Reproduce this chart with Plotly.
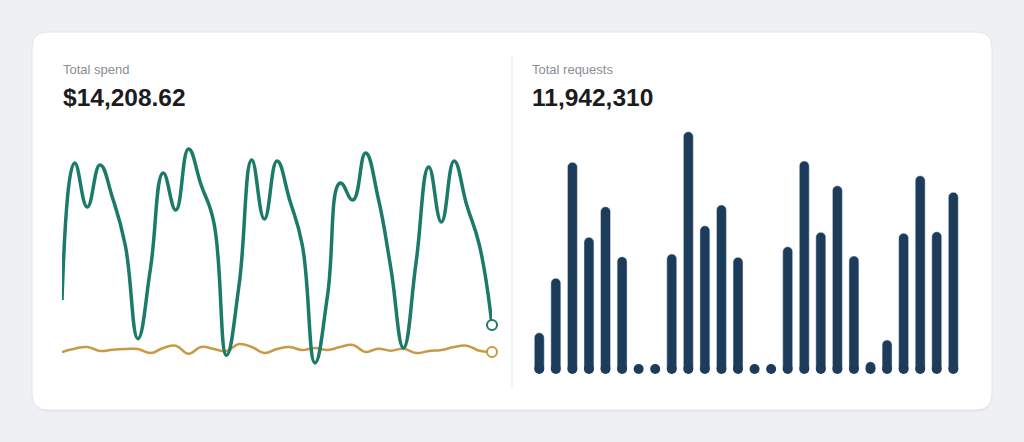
import plotly.graph_objects as go

W, H = 1024, 442

# --- data ---
days = list(range(35))
spend = [216, 627, 495, 621, 522, 381, 100, 312, 597, 486, 669, 561, 450, 50,
         261, 636, 459, 633, 516, 381, 27, 231, 567, 516, 657, 522, 312, 72,
         330, 615, 450, 633, 501, 381, 141]
other_spend = [60, 70, 75, 63, 67, 69, 69, 57, 72, 79, 55, 75, 69, 63,
               84, 75, 57, 69, 75, 66, 72, 66, 75, 81, 60, 70, 64, 70,
               57, 63, 66, 75, 79, 64, 60]

bar_days = list(range(26))
requests_k = [145, 363, 827, 527, 649, 449, 0, 0, 460, 949, 573, 656, 447,
              0, 0, 489, 832, 547, 733, 452, 29, 116, 543, 773, 549, 707]

spend_label = "Total spend"
spend_total = "$14,208.62"
req_label = "Total requests"
req_total = "11,942,310"

GREEN = "#1b7a69"
GOLD = "#c99a45"
NAVY = "#1c3c5a"


def px_x(x):
    return x / W


def px_y(y):
    return 1 - y / H


def rounded_rect(x0, y0, x1, y1, r):
    rx, ry = r / W, r / H
    a, b, c, d = px_x(x0), px_y(y0), px_x(x1), px_y(y1)
    return (f"M {a+rx},{b} L {c-rx},{b} Q {c},{b} {c},{b-ry} "
            f"L {c},{d+ry} Q {c},{d} {c-rx},{d} L {a+rx},{d} "
            f"Q {a},{d} {a},{d+ry} L {a},{b-ry} Q {a},{b} {a+rx},{b} Z")


fig = go.Figure()

# line chart (left)
fig.add_trace(go.Scatter(
    x=days, y=other_spend, mode="lines",
    line=dict(color=GOLD, width=2.5, shape="spline", smoothing=1.3),
    xaxis="x", yaxis="y", hoverinfo="skip", cliponaxis=False))
fig.add_trace(go.Scatter(
    x=days, y=spend, mode="lines",
    line=dict(color=GREEN, width=3.5, shape="spline", smoothing=1.3),
    xaxis="x", yaxis="y", hoverinfo="skip", cliponaxis=False))
fig.add_trace(go.Scatter(
    x=[days[-1], days[-1]], y=[spend[-1], other_spend[-1]], mode="markers",
    marker=dict(size=10, color="white", line=dict(color=[GREEN, GOLD], width=2)),
    xaxis="x", yaxis="y", hoverinfo="skip", cliponaxis=False))

# bar chart (right)
fig.add_trace(go.Bar(
    x=bar_days, y=requests_k, marker=dict(color=NAVY, cornerradius="50%"),
    xaxis="x2", yaxis="y2", hoverinfo="skip"))
fig.add_trace(go.Scatter(
    x=bar_days, y=[0] * len(bar_days), mode="markers",
    marker=dict(size=10, color=NAVY), xaxis="x2", yaxis="y2",
    hoverinfo="skip", cliponaxis=False))

shapes = [
    dict(type="path", xref="paper", yref="paper", path=rounded_rect(33, 35, 992, 412, 17),
         fillcolor="rgba(0,0,0,0.035)", line=dict(width=0), layer="below"),
    dict(type="path", xref="paper", yref="paper", path=rounded_rect(32, 32, 992, 410, 16),
         fillcolor="white", line=dict(color="#e2e4e8", width=1), layer="below"),
    dict(type="line", xref="paper", yref="paper", x0=px_x(512), x1=px_x(512),
         y0=px_y(55), y1=px_y(387), line=dict(color="#e3e5e8", width=1), layer="below"),
]

annotations = []
for x, lab, val in [(62, spend_label, spend_total), (531, req_label, req_total)]:
    annotations.append(dict(x=px_x(x - 1), y=px_y(69), xref="paper", yref="paper", text=lab,
                            showarrow=False, xanchor="left", yanchor="middle",
                            font=dict(size=13, color="#8a8d94")))
    annotations.append(dict(x=px_x(x - 1), y=px_y(97), xref="paper", yref="paper",
                            text=f"<b>{val}</b>", showarrow=False, xanchor="left",
                            yanchor="middle", font=dict(size=24.5, color="#1c1c1f")))

hidden = dict(showgrid=False, zeroline=False, showticklabels=False, showline=False,
              fixedrange=True)

fig.update_layout(
    width=W, height=H, margin=dict(l=0, r=0, t=0, b=0),
    paper_bgcolor="#eef0f4", plot_bgcolor="rgba(0,0,0,0)",
    font=dict(family="Liberation Sans, Arial, sans-serif"),
    showlegend=False, bargap=0.4,
    xaxis=dict(hidden, domain=[px_x(62), px_x(492)], range=[0, 34]),
    yaxis=dict(hidden, domain=[px_y(372), px_y(138.67)], range=[0, 700]),
    xaxis2=dict(hidden, domain=[px_x(531), px_x(961.6)], range=[-0.5, 25.5], anchor="y2"),
    yaxis2=dict(hidden, domain=[px_y(369), px_y(130)], range=[0, 956], anchor="x2"),
    shapes=shapes, annotations=annotations,
)

fig.write_html("out.html", config={"displayModeBar": False},
               post_script="document.body.style.margin='0';document.body.style.overflow='hidden';")
